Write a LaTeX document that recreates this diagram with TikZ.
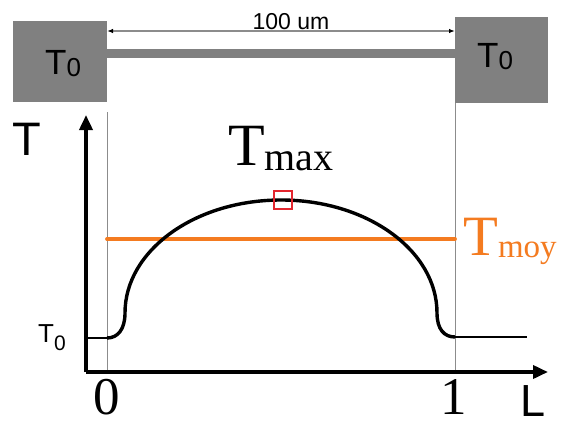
\documentclass[tikz,border=0pt]{standalone}
\usepackage{fontspec}
\setmainfont{Liberation Serif}
\setsansfont{Liberation Sans}
\usetikzlibrary{arrows.meta}
\definecolor{bloc}{HTML}{808080}
\definecolor{guia}{HTML}{8C8C8C}
\definecolor{mitja}{HTML}{F47B20}
\definecolor{pic}{HTML}{E3262E}
\tikzset{
  bloc/.style={fill=bloc},
  guia/.style={draw=guia, line width=1pt},
  eix/.style={draw=black, line width=3.6pt, -{Triangle[length=15pt,width=13pt]}},
  nivell/.style={draw=black, line width=2pt},
  perfil/.style={draw=black, line width=3.4pt, line join=round},
  cota/.style={draw=guia, line width=2pt, {Latex[black,length=6pt,width=4.5pt]}-{Latex[black,length=6pt,width=4.5pt]}},
  sans/.style={font=\sffamily, inner sep=0pt},
  serif/.style={font=\rmfamily, inner sep=0pt},
}
\newcommand{\mida}[1]{\fontsize{#1}{#1}\selectfont}

\begin{document}
\begin{tikzpicture}[x=1pt,y=1pt]
  \useasboundingbox (0,0) rectangle (561,424);
  \fill[white] (0,0) rectangle (561,424);

  % Punts de referencia.
  \coordinate (O) at (86,52);
  \coordinate (Ty) at (86,309);
  \coordinate (Lx) at (548,52);
  \coordinate (A0) at (107,312);
  \coordinate (A1) at (107,52);
  \coordinate (B0) at (455,321);
  \coordinate (B1) at (455,52);
  \coordinate (E0) at (86,86);
  \coordinate (P0) at (107,86);
  \coordinate (P1) at (455,87);
  \coordinate (E1) at (527,87);
  \coordinate (M0) at (107,185);
  \coordinate (M1) at (455,185);
  \coordinate (C0) at (107,393);
  \coordinate (C1) at (455,393);

  % Blocs a T0 i barra.
  \fill[bloc] (13,322) rectangle (107,403);
  \fill[bloc] (455,321) rectangle (548,407);
  \fill[bloc] (107,366) rectangle (455,375);
  \draw[cota] (C0) -- (C1);
  \node[sans, anchor=base] (long) at (291,394) {\mida{23}100 um};
  \node[sans, anchor=base west] (t0a) at (45,349) {\mida{35}T\raisebox{-2pt}{\mida{26}0}};
  \node[sans, anchor=base west] (t0b) at (477,356) {\mida{35}T\raisebox{-2pt}{\mida{26}0}};

  % Guies verticals.
  \draw[guia] (A0) -- (A1);
  \draw[guia] (B0) -- (B1);

  % Eixos.
  \draw[eix] (O) -- (Ty);
  \draw[eix] (O) -- (Lx);
  \node[sans, anchor=base west] (ty) at (12,269) {\mida{47}T};
  \node[sans, anchor=base west] (lx) at (520,8) {\mida{45}L};
  \node[serif, anchor=base] (zero) at (107,10) {\mida{53}0};
  \node[serif, anchor=base] (u) at (454,10) {\mida{53}1};
  \node[sans, anchor=base west] (t0e) at (38,82) {\mida{26}T\raisebox{-8pt}{\mida{21}0}};

  % Temperatura mitjana.
  \draw[mitja, line width=3.8pt, line cap=round] (M0) -- (M1);
  \node[serif, anchor=base west, text=mitja] (tmoy) at (463,169) {\mida{57}T\raisebox{-2pt}{\mida{33}moy}};

  % Perfil de temperatura.
  \draw[nivell] (E0) -- (P0);
  \draw[nivell] (P1) -- (E1);
  \draw[perfil] (P0) .. controls (118,86) and (125,95) .. (125,111)
    arc[start angle=180, end angle=0, x radius=156, y radius=113]
    .. controls (437,95) and (444,87) .. (P1);

  % Maxim.
  \node[draw=pic, line width=2.2pt, minimum size=18pt, inner sep=0pt] (pmax) at (283,224) {};
  \node[serif, anchor=base west] (tmax) at (228,259) {\mida{60}T\raisebox{-5pt}{\mida{40}max}};
\end{tikzpicture}
\end{document}
